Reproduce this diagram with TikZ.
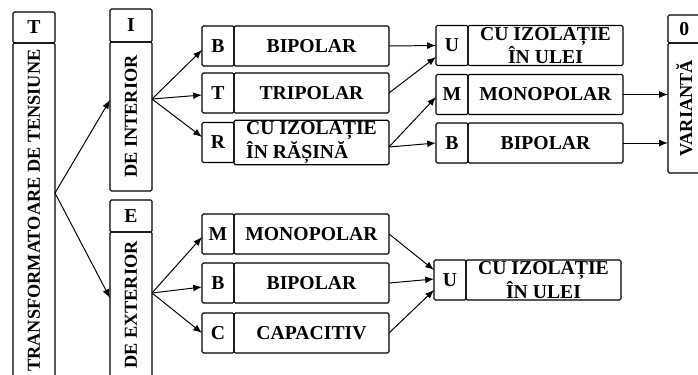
\documentclass[tikz,border=0pt]{standalone}
\usepackage{fontspec}
\setmainfont{Liberation Serif}
\usepackage{graphicx}
\usetikzlibrary{positioning,calc,arrows.meta}
\tikzset{
  arrow/.style={-{Latex[length=2.2mm,width=1.7mm]}, line width=0.7pt, draw=black},
  keybox/.style={draw, line width=0.8pt, rounded corners=1pt, minimum width=0.8cm, minimum height=1cm, inner sep=1pt, outer sep=0pt, font=\fontsize{14}{12}\selectfont\bfseries},
  textbox/.style={draw, line width=0.8pt, rounded corners=1pt, minimum width=3.875cm, minimum height=1cm, inner sep=1pt, outer sep=0pt, font=\fontsize{14}{12}\selectfont\bfseries},
  colhead/.style={draw, line width=0.8pt, rounded corners=1pt, minimum width=1.05cm, inner sep=0pt, outer sep=0pt, font=\fontsize{14}{12}\selectfont\bfseries},
  colbody/.style={draw, line width=0.8pt, rounded corners=1pt, minimum width=1.05cm, inner sep=0pt, outer sep=0pt, font=\fontsize{13}{15}\selectfont\bfseries},
}
\newcommand{\Pair}[5]{%
  \node[keybox, anchor=west] (#1) at #2 {#3};
  \node[textbox, align=#5, right=0pt of #1] (#1-t) {#4};
}

\begin{document}
\begin{tikzpicture}[x=1cm,y=1cm]
  \useasboundingbox (0,0) rectangle (17.45,-9.375);
  \clip (0,0) rectangle (17.45,-9.375);

  % Vertical columns
  \node[colhead, minimum height=0.775cm] (thead) at (0.85,-0.6875) {T};
  \node[colbody, minimum height=8.375cm, below=0pt of thead] (tbody) {\rotatebox{90}{TRANSFORMATOARE DE TENSIUNE}};

  \node[colhead, minimum height=0.825cm] (ihead) at (3.275,-0.6375) {I};
  \node[colbody, minimum height=3.725cm, below=0pt of ihead] (ibody) {\rotatebox{90}{DE INTERIOR}};

  \node[colhead, minimum height=0.8cm] (ehead) at (3.275,-5.4) {E};
  \node[colbody, minimum height=3.65cm, below=0pt of ehead] (ebody) {\rotatebox{90}{DE EXTERIOR}};

  \node[colhead, minimum width=0.82cm, minimum height=0.7cm] (vhead) at (17.11,-0.725) {0};
  \node[colbody, minimum width=0.82cm, minimum height=3.25cm, below=0pt of vhead] (vbody) {\rotatebox{90}{VARIANTĂ}};

  % Interior branch
  \Pair{ib}{(5.05,-1.15)}{B}{BIPOLAR}{center}
  \Pair{it}{(5.05,-2.325)}{T}{TRIPOLAR}{center}
  \Pair{ir}{(5.05,-3.5625)}{R}{CU IZOLAȚIE\\ÎN RĂȘINĂ}{left}

  \Pair{ou}{(10.9,-1.1375)}{U}{CU IZOLAȚIE\\ÎN ULEI}{center}
  \Pair{om}{(10.9,-2.3625)}{M}{MONOPOLAR}{center}
  \Pair{ob}{(10.9,-3.575)}{B}{BIPOLAR}{center}

  % Exterior branch
  \Pair{em}{(5.05,-5.85)}{M}{MONOPOLAR}{center}
  \Pair{eb}{(5.05,-7.075)}{B}{BIPOLAR}{center}
  \Pair{ec}{(5.05,-8.325)}{C}{CAPACITIV}{center}

  \Pair{xu}{(10.85,-7.0)}{U}{CU IZOLAȚIE\\ÎN ULEI}{center}

  % Connections
  \draw[arrow] ($(tbody.east)+(0,0.4375)$) -- ($(ibody.west)+(0,0.4125)$);
  \draw[arrow] ($(tbody.east)+(0,0.4375)$) -- ($(ebody.west)+(0,0.175)$);

  \draw[arrow] ($(ibody.east)+(0,0.4375)$) -- ($(ib.west)+(0,-0.1)$);
  \draw[arrow] ($(ibody.east)+(0,0.4375)$) -- ($(it.west)+(0,-0.05)$);
  \draw[arrow] ($(ibody.east)+(0,0.4375)$) -- ($(ir.west)+(0,0.1375)$);

  \draw[arrow] ($(ebody.east)+(0,0.3)$) -- ($(em.west)+(0,-0.075)$);
  \draw[arrow] ($(ebody.east)+(0,0.3)$) -- ($(eb.west)+(0,-0.1)$);
  \draw[arrow] ($(ebody.east)+(0,0.3)$) -- (ec.west);

  \draw[arrow] (ib-t.east) -- (ou.west);
  \draw[arrow] (it-t.east) -- ($(ou.west)+(0,-0.2875)$);
  \draw[arrow] ($(ir-t.east)+(0,-0.1125)$) -- ($(om.west)+(0,-0.0625)$);
  \draw[arrow] ($(ir-t.east)+(0,-0.1125)$) -- (ob.west);

  \draw[arrow] (om-t.east) -- (om-t.east -| vbody.west);
  \draw[arrow] (ob-t.east) -- (ob-t.east -| vbody.west);

  \draw[arrow] (em-t.east) -- ($(xu.west)+(0,0.25)$);
  \draw[arrow] (eb-t.east) -- ($(xu.west)+(0,0.025)$);
  \draw[arrow] (ec-t.east) -- ($(xu.west)+(0,-0.25)$);
\end{tikzpicture}
\end{document}
